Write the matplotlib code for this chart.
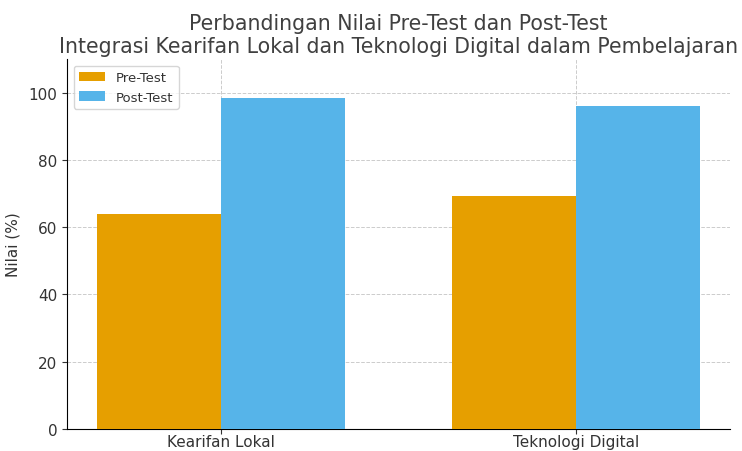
import matplotlib
matplotlib.use('Agg')
import matplotlib.pyplot as plt
import numpy as np

# Data
categories = ['Kearifan Lokal', 'Teknologi Digital']
pre_test = [64, 69.3]
post_test = [98.3, 96]
series_labels = ['Pre-Test', 'Post-Test']

plt.rcParams['font.family'] = ['DejaVu Sans']
plt.rcParams['text.color'] = '#333333'
plt.rcParams['axes.labelcolor'] = '#333333'
plt.rcParams['xtick.color'] = '#333333'
plt.rcParams['ytick.color'] = '#333333'

fig = plt.figure(figsize=(7.42, 4.52), dpi=100)
ax = fig.add_axes([0.0903, 0.049, 0.894, 0.818])

x = np.arange(len(categories))
width = 0.35
ax.bar(x - width / 2, pre_test, width, label=series_labels[0], color='#E69F00', zorder=3)
ax.bar(x + width / 2, post_test, width, label=series_labels[1], color='#56B4E9', zorder=3)

ax.set_ylim(0, 110)
ax.set_xticks(x)
ax.set_xticklabels(categories, fontsize=11)
ax.tick_params(axis='x', pad=0.5)
ax.tick_params(axis='y', labelsize=11)
ax.set_ylabel('Nilai (%)', fontsize=11, labelpad=6)
ax.set_title('Perbandingan Nilai Pre-Test dan Post-Test\n'
             'Integrasi Kearifan Lokal dan Teknologi Digital dalam Pembelajaran',
             fontsize=14.8, color='#404040', pad=5)

ax.grid(True, linestyle='--', color='#cccccc', linewidth=0.7, zorder=0)
ax.spines['top'].set_visible(False)
ax.spines['right'].set_visible(False)
ax.legend(loc='upper left', fontsize=9.5)

plt.savefig('out.png', dpi=100)
plt.close()
